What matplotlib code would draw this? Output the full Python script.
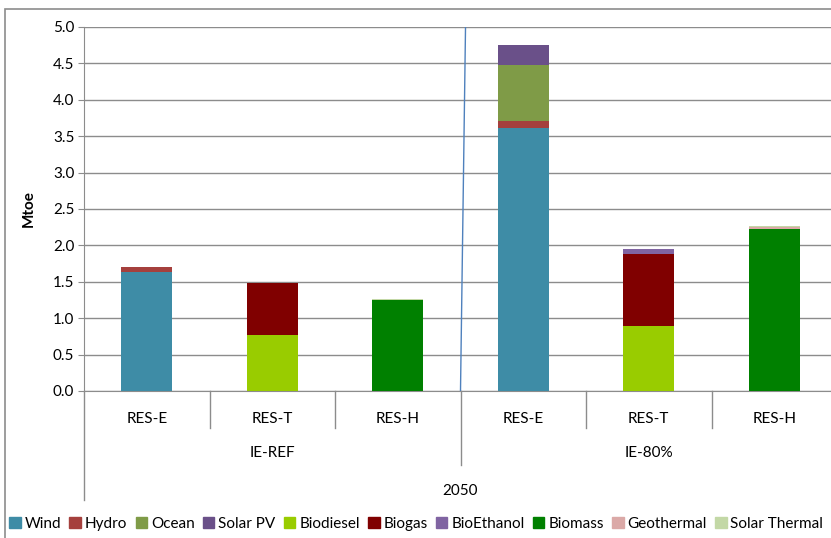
import matplotlib.pyplot as plt
from matplotlib.patches import Rectangle
from matplotlib.lines import Line2D

plt.rcParams['font.family'] = ['Lato', 'DejaVu Sans']

# Stacked renewable energy shares by sector, 2050
categories = ["RES-E", "RES-T", "RES-H", "RES-E", "RES-T", "RES-H"]
scenarios = ["IE-REF", "IE-80%"]
year_label = "2050"

series = ["Wind", "Hydro", "Ocean", "Solar PV", "Biodiesel", "Biogas",
          "BioEthanol", "Biomass", "Geothermal", "Solar Thermal"]
wind = [1.64, 0.0, 0.0, 3.61, 0.0, 0.0]
hydro = [0.06, 0.0, 0.0, 0.10, 0.0, 0.0]
ocean = [0.0, 0.0, 0.0, 0.77, 0.0, 0.0]
solar_pv = [0.0, 0.0, 0.0, 0.27, 0.0, 0.0]
biodiesel = [0.0, 0.77, 0.0, 0.0, 0.89, 0.0]
biogas = [0.0, 0.71, 0.0, 0.0, 0.99, 0.0]
bioethanol = [0.0, 0.0, 0.0, 0.0, 0.07, 0.0]
biomass = [0.0, 0.0, 1.25, 0.0, 0.0, 2.22]
geothermal = [0.0, 0.0, 0.0, 0.0, 0.0, 0.03]
solar_thermal = [0.0, 0.0, 0.01, 0.0, 0.0, 0.02]

values = [wind, hydro, ocean, solar_pv, biodiesel, biogas,
          bioethanol, biomass, geothermal, solar_thermal]
colors = ["#3E8CA6", "#A5403D", "#7F9B47", "#6A5089", "#99CC00", "#800000",
          "#8064A2", "#008000", "#DBA9A7", "#C3D8A6"]

fig = plt.figure(figsize=(8.31, 5.38), dpi=100)
W, H = 831, 538

# chart area border
fig.patches.append(Rectangle((5 / W, -0.05), 1.2, (H - 9) / H + 0.05,
                             transform=fig.transFigure, fill=False,
                             edgecolor="#8C8C8C", linewidth=1.2))

# plot area (slightly wider than the figure, right edge is clipped)
left, right, top, bottom = 84, 837, 27, 391
ax = fig.add_axes([left / W, (H - bottom) / H, (right - left) / W, (bottom - top) / H])

x = list(range(len(categories)))
base = [0.0] * len(categories)
for name, vals, col in zip(series, values, colors):
    ax.bar(x, vals, width=0.41, bottom=base, color=col, label=name, zorder=3)
    base = [b + v for b, v in zip(base, vals)]

ax.set_xlim(-0.5, len(categories) - 0.5)
ax.set_ylim(0, 5.0)
ax.set_yticks([i * 0.5 for i in range(11)])
ax.set_yticklabels([f"{i * 0.5:.1f}" for i in range(11)], fontsize=11)
ax.yaxis.grid(True, color="#8C8C8C", linewidth=1.0, zorder=0)
ax.tick_params(axis="y", length=4, color="#8C8C8C", pad=3)
ax.set_xticks([])
for side in ["top", "right"]:
    ax.spines[side].set_visible(False)
ax.spines["left"].set_color("#8C8C8C")
ax.spines["bottom"].set_color("#8C8C8C")
ax.set_ylabel("Mtoe", fontsize=11, fontweight="bold", labelpad=12)

# separator line between scenarios
ax.plot([2.5, 2.54], [0, 5.0], color="#4F81BD", linewidth=1.0, zorder=4)

# multi-level category axis drawn below the plot
trans = ax.get_xaxis_transform()
px = 1.0 / (bottom - top)
for i, cat in enumerate(categories):
    ax.text(i, -(419 - bottom) * px, cat, transform=trans, ha="center", va="center",
            fontsize=11)
for b in [0.5, 1.5, 3.5, 4.5]:
    ax.add_line(Line2D([b, b], [0, -(428 - bottom) * px], transform=trans,
                       color="#8C8C8C", linewidth=1.0, clip_on=False))
ax.add_line(Line2D([2.5, 2.5], [0, -(465 - bottom) * px], transform=trans,
                   color="#8C8C8C", linewidth=1.0, clip_on=False))
ax.add_line(Line2D([-0.5, -0.5], [0, -(500 - bottom) * px], transform=trans,
                   color="#8C8C8C", linewidth=1.0, clip_on=False))
for j, sc in enumerate(scenarios):
    ax.text(1 + 3 * j, -(453 - bottom) * px, sc, transform=trans, ha="center",
            va="center", fontsize=11)
ax.text(2.5, -(491 - bottom) * px, year_label, transform=trans, ha="center",
        va="center", fontsize=11)

handles = [Rectangle((0, 0), 1, 1, color=c) for c in colors]
fig.legend(handles, series, loc="center left", bbox_to_anchor=(0.0, 14 / H),
           ncol=len(series), frameon=False, fontsize=11, handlelength=0.75,
           handleheight=0.75, handletextpad=0.25, columnspacing=0.55,
           borderaxespad=0.2)

fig.savefig("out.png", dpi=100)
